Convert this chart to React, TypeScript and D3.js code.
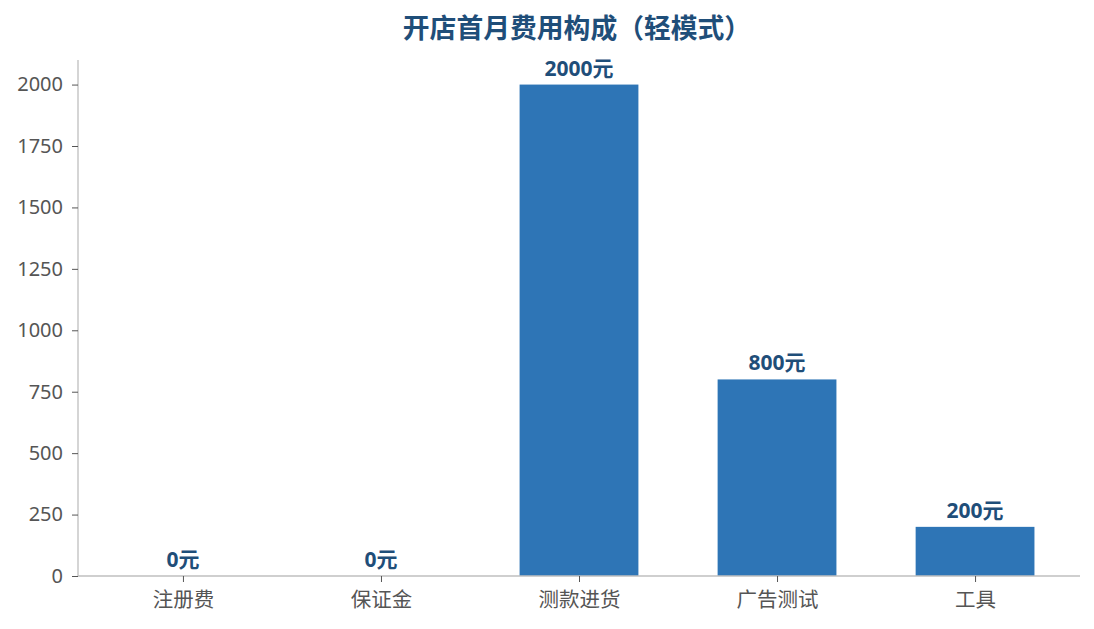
import { useEffect, useRef } from "react"
import * as d3 from "d3"

const categories = ["注册费", "保证金", "测款进货", "广告测试", "工具"]
const values = [0, 0, 2000, 800, 200]
const yTicks = [0, 250, 500, 750, 1000, 1250, 1500, 1750, 2000]
const title = "开店首月费用构成（轻模式）"

export default function App() {
    const svgRef = useRef<SVGSVGElement>(null)

    useEffect(() => {
        const width = 1094
        const height = 629
        const margin = { top: 60, right: 14, bottom: 53, left: 78 }
        const font = "'Noto Sans', 'Noto Sans CJK SC', sans-serif"

        const root = d3.select(svgRef.current)
        root.selectAll("*").remove()
        root.attr("width", width).attr("height", height)

        const innerW = width - margin.left - margin.right
        const innerH = height - margin.top - margin.bottom

        const svg = root.append("g").attr("transform", `translate(${margin.left},${margin.top})`)

        const x = d3.scaleLinear().domain([-0.53, categories.length - 1 + 0.53]).range([0, innerW])
        const y = d3.scaleLinear().domain([0, 2100]).range([innerH, 0])
        const barW = x(0.3) - x(-0.3)

        svg
            .selectAll(".bar")
            .data(values)
            .enter()
            .append("rect")
            .attr("x", (_, i) => x(i) - barW / 2)
            .attr("y", (d) => y(d))
            .attr("width", barW)
            .attr("height", (d) => innerH - y(d))
            .attr("fill", "#2e75b6")

        svg
            .selectAll(".lbl")
            .data(values)
            .enter()
            .append("text")
            .attr("x", (_, i) => x(i))
            .attr("y", (d) => y(d) - 9)
            .attr("text-anchor", "middle")
            .style("font-family", font)
            .style("font-size", "21px")
            .style("font-weight", "bold")
            .attr("fill", "#1f4e79")
            .text((d) => `${d}元`)

        const yAxis = svg
            .append("g")
            .call(d3.axisLeft(y).tickValues(yTicks).tickFormat(d3.format("d")).tickSize(6).tickPadding(9))
        yAxis.select(".domain").attr("stroke", "#bfbfbf").attr("stroke-width", 1.3).attr("d", `M0,0V${innerH}`)
        yAxis.selectAll(".tick line").attr("stroke", "#555555")
        yAxis
            .selectAll(".tick text")
            .style("font-family", font)
            .style("font-size", "20px")
            .attr("fill", "#555555")

        const xAxis = svg
            .append("g")
            .attr("transform", `translate(0,${innerH})`)
            .call(
                d3
                    .axisBottom(x)
                    .tickValues(d3.range(categories.length))
                    .tickFormat((d) => categories[d as number])
                    .tickSize(6)
                    .tickPadding(10)
            )
        xAxis.select(".domain").attr("stroke", "#bfbfbf").attr("stroke-width", 1.3).attr("d", `M0,0H${innerW}`)
        xAxis.selectAll(".tick line").attr("stroke", "#555555")
        xAxis
            .selectAll(".tick text")
            .style("font-family", font)
            .style("font-size", "20.5px")
            .attr("fill", "#555555")

        root
            .append("text")
            .attr("x", margin.left + innerW / 2 - 2)
            .attr("y", 38)
            .attr("text-anchor", "middle")
            .style("font-family", font)
            .style("font-size", "26.8px")
            .style("font-weight", "bold")
            .attr("fill", "#1f4e79")
            .text(title)
    }, [])

    return (
        <div style={{ position: "fixed", left: 0, top: 0, background: "#fff" }}>
            <svg ref={svgRef} style={{ display: "block" }}></svg>
        </div>
    )
}
